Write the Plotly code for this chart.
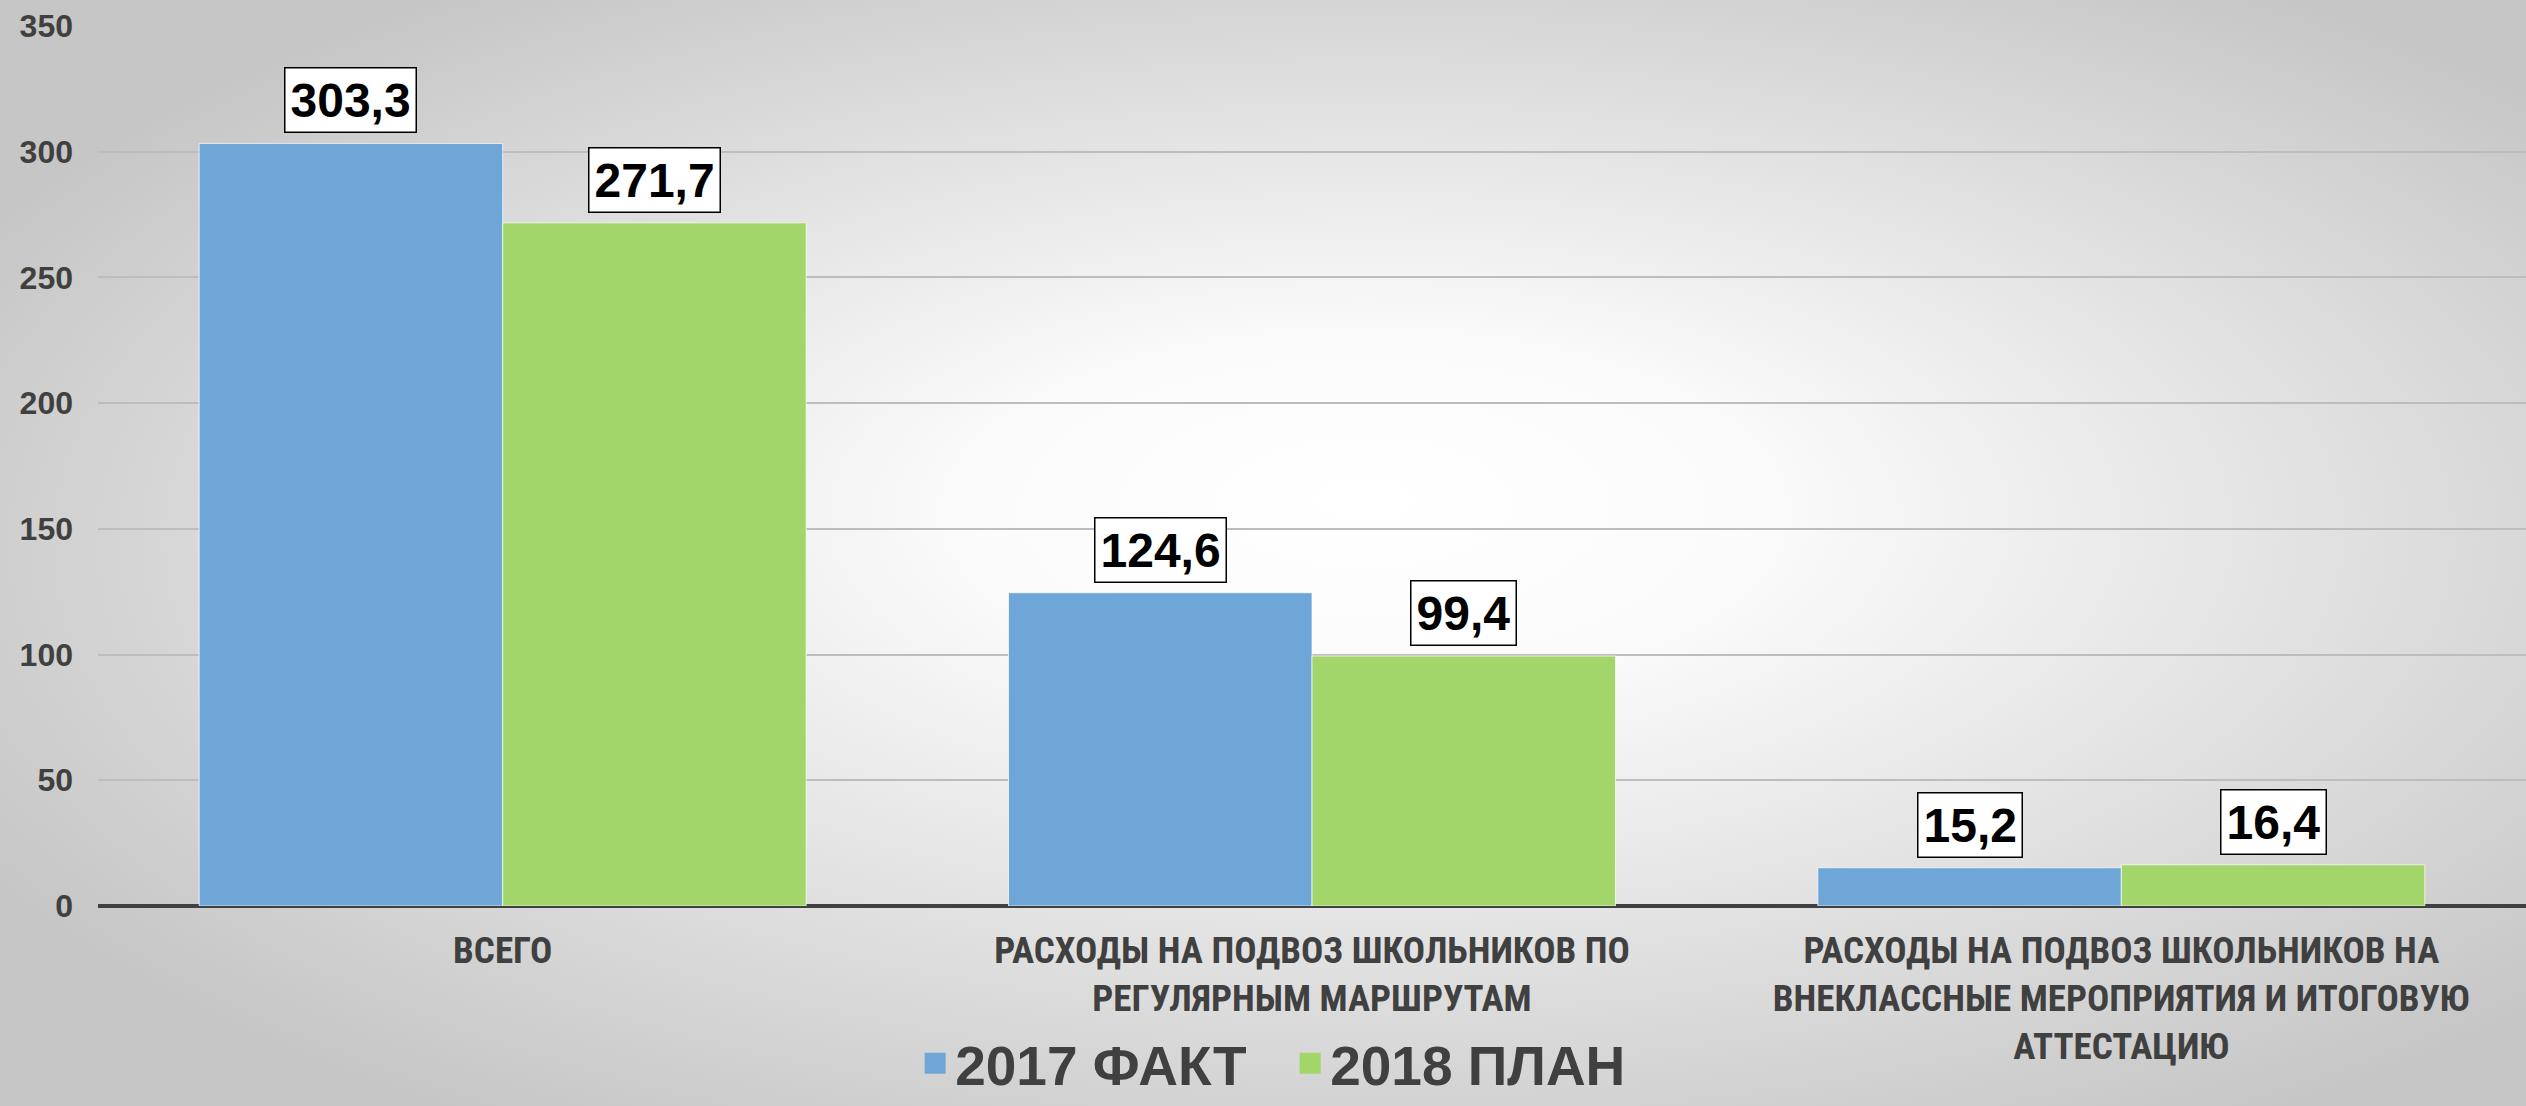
import base64
import plotly.graph_objects as go

categories = [
    "ВСЕГО",
    "РАСХОДЫ НА ПОДВОЗ ШКОЛЬНИКОВ ПО<br>РЕГУЛЯРНЫМ МАРШРУТАМ",
    "РАСХОДЫ НА ПОДВОЗ ШКОЛЬНИКОВ НА<br>ВНЕКЛАССНЫЕ МЕРОПРИЯТИЯ И ИТОГОВУЮ<br>АТТЕСТАЦИЮ",
]
series_names = ["2017 ФАКТ", "2018 ПЛАН"]
fact_2017 = [303.3, 124.6, 15.2]
plan_2018 = [271.7, 99.4, 16.4]
y_ticks = [0, 50, 100, 150, 200, 250, 300, 350]

W, H = 2526, 1106
ML, MR, MT, MB = 98, 0, 26, 200
BARGAP = 0.25

colors = ["#6fa6d8", "#a2d66b"]
NARROW = "Liberation Sans Narrow, Arial Narrow, Roboto Condensed, DejaVu Sans Condensed, sans-serif"
SANS = "Liberation Sans, Arial, sans-serif"

def fmt(v):
    return f"{v:.1f}".replace(".", ",")

fig = go.Figure()
for name, vals, col in zip(series_names, [fact_2017, plan_2018], colors):
    fig.add_trace(go.Bar(
        name=name, x=categories, y=vals, showlegend=False,
        marker=dict(color=col, line=dict(color="rgba(255,255,255,0.7)", width=1)),
    ))
# legend entries (larger square swatches)
for name, col in zip(series_names, colors):
    fig.add_trace(go.Scatter(
        name=name, x=[None], y=[None], mode="markers",
        marker=dict(symbol="square", size=30, color=col, line=dict(color=col, width=5)),
    ))

# data labels in boxed annotations, centered over each bar
n_series = 2
bw = (1 - BARGAP) / n_series
for s, vals in enumerate([fact_2017, plan_2018]):
    off = -0.5 * (1 - BARGAP) + bw * (s + 0.5)
    for i, v in enumerate(vals):
        fig.add_annotation(
            x=i + off, y=v, xref="x", yref="y",
            text=fmt(v), showarrow=False, yanchor="bottom", yshift=10,
            font=dict(family=SANS, size=48, color="#000000", weight="bold"),
            bgcolor="#ffffff", bordercolor="#000000", borderwidth=1.5, borderpad=5,
        )

# background radial gradient
svg = f'''<svg xmlns="http://www.w3.org/2000/svg" width="{W}" height="{H}" viewBox="0 0 {W} {H}" preserveAspectRatio="none">
<defs><radialGradient id="g" cx="0.54" cy="0.5" r="0.62" fx="0.54" fy="0.45">
<stop offset="0" stop-color="#ffffff"/><stop offset="0.25" stop-color="#fbfbfb"/>
<stop offset="1" stop-color="#c6c6c6"/></radialGradient></defs>
<rect width="{W}" height="{H}" fill="url(#g)"/></svg>'''
uri = "data:image/svg+xml;base64," + base64.b64encode(svg.encode()).decode()
pw, ph = W - ML - MR, H - MT - MB
fig.add_layout_image(dict(
    source=uri, xref="paper", yref="paper",
    x=-ML / pw, y=1 + MT / ph, sizex=W / pw, sizey=H / ph,
    xanchor="left", yanchor="top", sizing="stretch", layer="below",
))

fig.update_layout(
    width=W, height=H,
    margin=dict(l=ML, r=MR, t=MT, b=MB, pad=0, autoexpand=False),
    barmode="group", bargap=BARGAP, bargroupgap=0,
    paper_bgcolor="#e0e0e0", plot_bgcolor="rgba(0,0,0,0)",
    showlegend=True,
    legend=dict(
        orientation="h", x=0.491, xanchor="center", yref="container", y=-0.022, yanchor="bottom",
        font=dict(family=SANS, size=55, color="#404040", weight="bold"),
        bgcolor="rgba(0,0,0,0)", traceorder="normal", itemsizing="trace",
        entrywidth=330, entrywidthmode="pixels",
    ),
    xaxis=dict(
        type="category", showgrid=False, showline=False, ticks="", automargin=False,
        tickfont=dict(family=NARROW, size=37, color="#404040", weight="bold"),
        ticklabelstandoff=19,
    ),
    yaxis=dict(
        range=[0, 350], tickvals=y_ticks, showgrid=True, gridcolor="#bdbdbd", gridwidth=1.5,
        zeroline=True, zerolinecolor="#404040", zerolinewidth=4, showline=False, ticks="",
        automargin=False,
        tickfont=dict(family=SANS, size=32, color="#404040", weight="bold"),
        ticklabelstandoff=24,
    ),
)

fig.write_html(
    "out.html",
    config={"displayModeBar": False},
    post_script="document.body.style.margin='0';document.body.style.overflow='hidden';",
)
